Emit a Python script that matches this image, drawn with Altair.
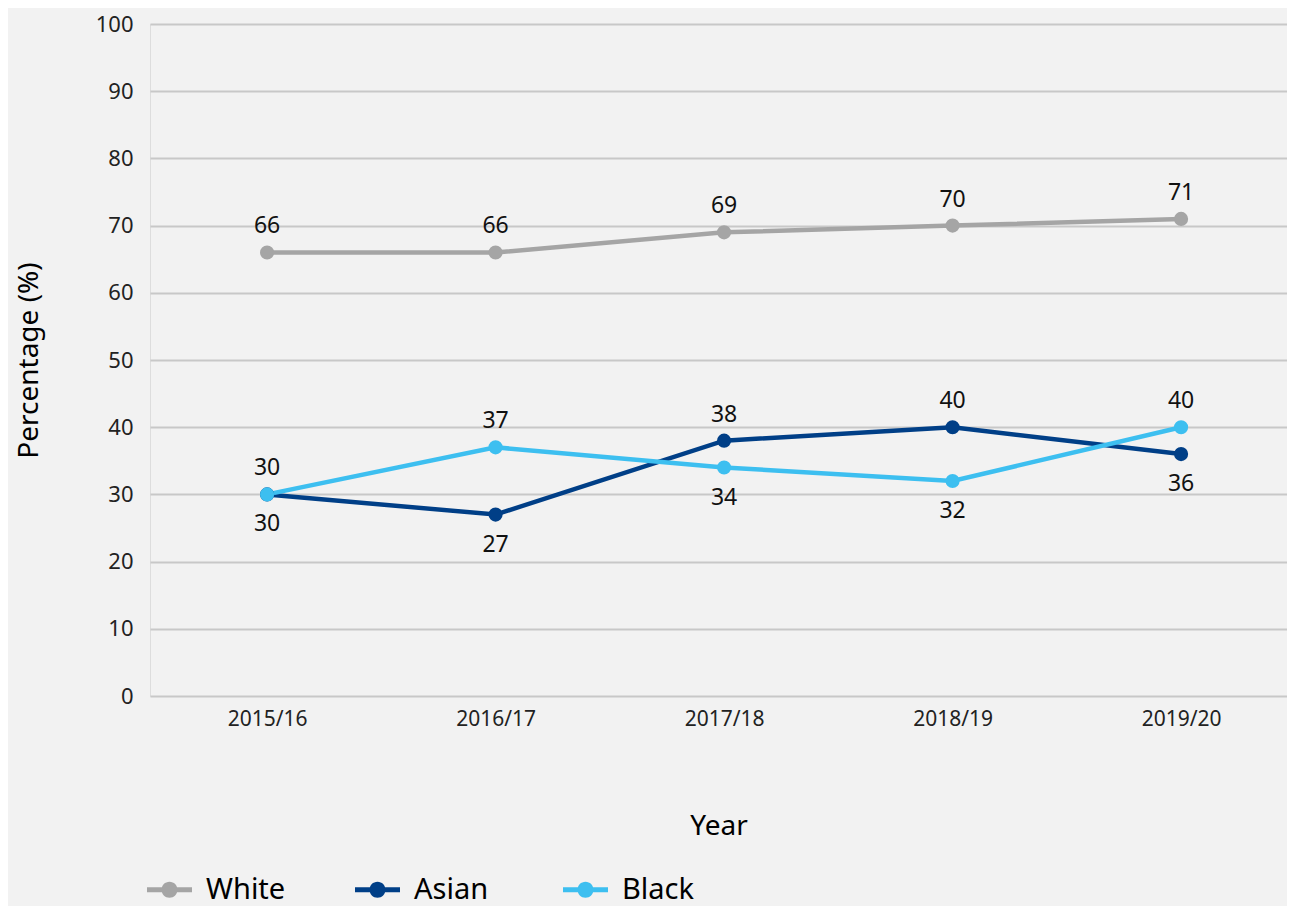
import altair as alt
import pandas as pd

years = ["2015/16", "2016/17", "2017/18", "2018/19", "2019/20"]
series = ["White", "Asian", "Black"]
white = [66, 66, 69, 70, 71]
asian = [30, 27, 38, 40, 36]
black = [30, 37, 34, 32, 40]
# label placement: "a" above the point, "b" below
white_pos = ["a", "a", "a", "a", "a"]
asian_pos = ["b", "b", "a", "a", "b"]
black_pos = ["a", "a", "b", "b", "a"]
colors = ["#a5a5a5", "#003f87", "#3dbff0"]

rows = []
for name, vals, pos in [("White", white, white_pos), ("Asian", asian, asian_pos), ("Black", black, black_pos)]:
    for y, v, p in zip(years, vals, pos):
        rows.append({"Year": y, "Group": name, "Value": v, "Pos": p})
df = pd.DataFrame(rows)

FONT = "Noto Sans"

x = alt.X("Year:N", sort=years, title="Year",
          scale=alt.Scale(type="point", padding=0.488, align=0.525),
          axis=alt.Axis(labelAngle=0, labelFontSize=21, labelColor="#222222", labelPadding=12,
                        titleFontSize=28, titleFontWeight="normal", titleColor="#000000",
                        titlePadding=83, domain=False, ticks=False, grid=False))
y = alt.Y("Value:Q", title="Percentage (%)",
          scale=alt.Scale(domain=[0, 100], nice=False, zero=True),
          axis=alt.Axis(values=list(range(0, 101, 10)), labelFontSize=22, labelColor="#222222",
                        labelPadding=17, titleFontSize=28, titleFontWeight="normal",
                        titleColor="#000000", titlePadding=52, domain=False, ticks=False,
                        grid=True, gridColor="#c8c8c8", gridWidth=2))
color_scale = alt.Scale(domain=series, range=colors)

legend_path = ("M-1,-0.11 H-0.33 V0.11 H-1 Z "
               "M0.356,0 A0.356,0.356 0 1,1 -0.356,0 A0.356,0.356 0 1,1 0.356,0 Z "
               "M0.33,-0.11 H1 V0.11 H0.33 Z")

base = alt.Chart(df)

lines = base.mark_line(strokeWidth=4.5).encode(
    x=x, y=y,
    color=alt.Color("Group:N", scale=color_scale, legend=None),
    detail="Group:N",
)
points = base.mark_point(filled=True, size=200, opacity=1).encode(
    x=x, y=y,
    color=alt.Color("Group:N", scale=color_scale, sort=series,
                    legend=alt.Legend(title=None, orient="none", legendX=-3, legendY=843,
                                      direction="horizontal", columns=3, gridAlign="all",
                                      columnPadding=69, symbolType=legend_path, symbolSize=2025,
                                      symbolStrokeWidth=0, symbolOpacity=1, labelFontSize=29,
                                      labelColor="#000000", labelOffset=14, labelFont=FONT)),
)
labels_above = base.transform_filter(alt.datum.Pos == "a").mark_text(
    dy=-26, fontSize=23, color="#111111", font=FONT
).encode(x=x, y=y, text="Value:Q")
labels_below = base.transform_filter(alt.datum.Pos == "b").mark_text(
    dy=30, fontSize=23, color="#111111", font=FONT
).encode(x=x, y=y, text="Value:Q")

chart = alt.layer(lines, points, labels_above, labels_below).resolve_legend(
    color="independent"
).properties(
    width=1137, height=672,
    background="#f2f2f2",
    autosize=alt.AutoSizeParams(type="none"),
    padding={"left": 142, "top": 16, "right": 0, "bottom": 210},
).configure_view(stroke=None).configure(font=FONT)

chart.save("out.html", embed_options={"renderer": "svg", "actions": False})
